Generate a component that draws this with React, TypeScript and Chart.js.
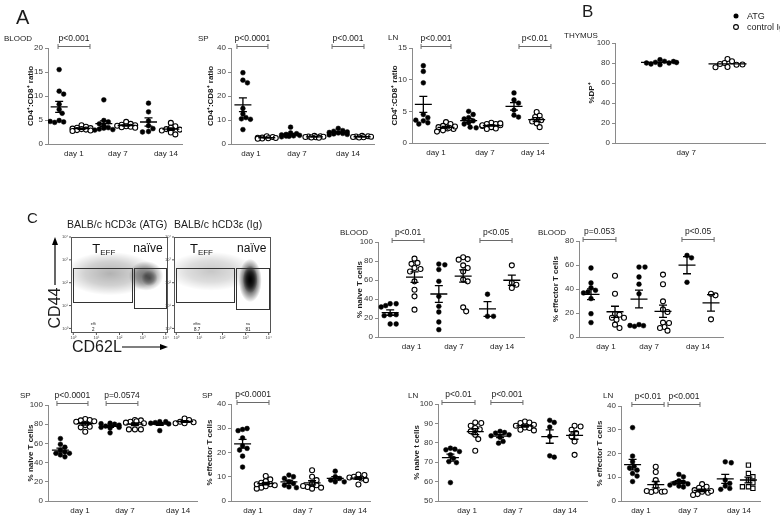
import React, { useEffect, useRef } from "react";
import { Chart, registerables } from "chart.js";
Chart.register(...registerables);

const FONT = "'Liberation Sans', Arial, Helvetica, sans-serif";
const INK = "#1c1c1c";
const AXIS = "#8a8a8a";

// ---------------- data ----------------
const DAYS = ["day 1", "day 7", "day 14"];
const KIND6 = ["atg", "ig", "atg", "ig", "atg", "ig"];
const KIND6SQ = ["atg", "ig", "atg", "ig", "atg", "sq"];

// A: CD4:CD8 ratio  (groups: ATG d1, Ig d1, ATG d7, Ig d7, ATG d14, Ig d14)
const bloodRatio = [
  [15.5, 11, 10.4, 8.3, 7.2, 6.4, 4.9, 4.6, 4.5, 4.7],
  [3.9, 3.6, 3.4, 3.3, 3.2, 3.1, 3.0, 2.9, 2.8, 2.7],
  [9.2, 4.9, 4.6, 4.2, 3.8, 3.4, 3.1, 3.0, 2.9, 3.3],
  [4.6, 4.2, 4.0, 3.9, 3.8, 3.7, 3.6, 3.5, 3.4],
  [8.5, 6.7, 4.8, 3.8, 3.2, 2.6, 2.5],
  [4.4, 3.7, 3.4, 3.1, 3.0, 2.8, 2.4, 2.0],
];
const spRatio = [
  [29.7, 26.6, 25.5, 14.8, 12.5, 11, 10.5, 10.3, 6],
  [3.2, 2.9, 2.7, 2.6, 2.5, 2.4, 2.3, 2.2],
  [7.0, 4.6, 4.3, 4.0, 3.8, 3.6, 3.4, 3.2, 3.0, 3.3],
  [3.4, 3.2, 3.1, 3.0, 2.9, 2.8, 2.7, 2.6],
  [6.5, 5.6, 5.3, 5.0, 4.8, 4.6, 4.4, 4.2, 4.0, 3.8],
  [3.4, 3.2, 3.1, 3.0, 2.9, 2.8, 2.7],
];
const lnRatio = [
  [12.2, 11.3, 9.5, 4.5, 4.0, 3.5, 3.2, 3.0, 3.6],
  [3.3, 3.0, 2.7, 2.5, 2.3, 2.2, 2.0, 1.8, 2.6, 2.4],
  [5.0, 4.5, 4.0, 3.5, 3.2, 3.0, 2.5, 2.4, 3.8],
  [3.2, 3.0, 3.0, 2.8, 2.7, 2.5, 2.3, 2.2, 2.8, 3.1],
  [7.9, 6.8, 6.3, 5.2, 4.4, 4.1],
  [4.9, 4.3, 4.1, 3.6, 3.1, 2.5, 3.4],
];
// B: thymus %DP+ at day 7 (ATG, control Ig)
const thymusDP = [
  [83.3, 81.7, 80.7, 80, 79, 78.3, 80, 81.5, 80.5],
  [84, 81.7, 80, 79, 78.3, 76, 75.7, 78.5],
];
// C: % naive / % effector T cells
const bloodNaive = [
  [35, 35, 33, 31.6, 23.5, 23.5, 22.5, 13.7, 13.7],
  [82.5, 78, 77, 72.6, 71.6, 69, 58.6, 49.8, 42.8, 28.8],
  [76.8, 76, 71, 58.6, 42.8, 32.3, 26.3, 15.8, 7.7],
  [83.9, 82, 81.4, 75.4, 72.6, 69, 60.4, 58.6, 31.2, 27],
  [45, 21.8, 21.8],
  [75.4, 57, 55, 51.6],
];
const bloodEff = [
  [57.5, 45, 41, 38.9, 37.5, 36.7, 32, 19.4, 12],
  [51, 36, 19.4, 18.6, 16, 16, 14.4, 10.3, 7.5],
  [58.3, 58.3, 50, 44, 36, 10.3, 9.4, 8.9, 9.6],
  [52, 44, 29.7, 23, 20.8, 12, 11.7, 8.3, 7.5, 5.3],
  [68, 66, 45.6],
  [36, 34.7, 14.7],
];
const spNaive = [
  [65, 59, 56, 53, 51, 49.7, 49.7, 48, 46],
  [85.4, 84.4, 84, 83, 82.6, 79.2, 77.4, 76.7, 72.2],
  [81, 80, 78, 76.7, 76.7, 76, 71, 79, 80.5],
  [84.4, 84, 82.6, 81.6, 81, 83, 74.6, 74.6, 74.6],
  [82.6, 82.6, 81.6, 81, 80.3, 73.3],
  [86, 84.4, 82.6, 82, 81, 81],
];
const spEff = [
  [29.5, 29.9, 29, 26, 22.7, 21.7, 21, 18.5, 14],
  [10.3, 8.9, 8.2, 7.5, 6.9, 6.5, 6.1, 5.5, 5.1, 6.9],
  [10.7, 10, 9.3, 7.9, 7.2, 6.5, 5.8, 5.5],
  [12.7, 10, 8.6, 7.2, 6.5, 5.8, 5.5, 5.1, 6.2],
  [12.3, 10, 9.3, 8.6, 7.9, 7.9],
  [10.9, 10.7, 10, 9.7, 9.3, 8.6, 6.8],
];
const lnNaive = [
  [77.2, 76.7, 76.4, 75.5, 73.8, 72, 70.3, 69.8, 59.5],
  [90.5, 90.2, 88.8, 87.6, 87, 85.9, 84.1, 81.9, 75.9],
  [85.9, 85.3, 85, 84.1, 83.6, 82.8, 80.7, 79.8],
  [91, 90.5, 90.2, 89.3, 88.8, 87.9, 87.6, 86.7, 86.4],
  [91.6, 90.5, 88.1, 83.3, 73.3, 72.6],
  [88.8, 88.4, 86.7, 85, 83.3, 80.7, 73.8],
];
const lnEff = [
  [30.9, 18.9, 16.5, 14.6, 13.9, 13, 11.6, 10.5, 8.2],
  [14.4, 12.2, 8.8, 6.3, 4.3, 3.9, 3.8, 4.2, 4.0],
  [11.2, 10.2, 8.5, 7.9, 7.5, 7.2, 6.7, 6.3, 5.9],
  [7.1, 6.0, 5.6, 4.6, 3.9, 3.5, 2.9, 2.5, 4.2],
  [16.5, 16.1, 8.8, 7.4, 6.3, 5.3, 4.9],
  [15.1, 11.6, 10.2, 8.8, 7.7, 6.0, 5.3, 6.0],
];

// significance brackets (from/to in group units, text)
const bloodRatioP = [{ a: 0.45, b: 1.88, t: "p<0.001" }];
const spRatioP = [{ a: 0.25, b: 1.55, t: "p<0.0001" }, { a: 4.24, b: 5.58, t: "p<0.001" }];
const lnRatioP = [{ a: 0.4, b: 1.72, t: "p<0.001" }, { a: 4.72, b: 6.13, t: "p<0.01" }];
const bloodNaiveP = [{ a: 0.58, b: 1.89, t: "p<0.01" }, { a: 4.19, b: 5.51, t: "p<0.05" }];
const bloodEffP = [{ a: 0.17, b: 1.54, t: "p=0.053" }, { a: 4.29, b: 5.63, t: "p<0.05" }];
const spNaiveP = [{ a: 0.36, b: 1.61, t: "p<0.0001" }, { a: 2.34, b: 3.62, t: "p=0.0574" }];
const spEffP = [{ a: 0.26, b: 1.64, t: "p<0.0001" }];
const lnNaiveP = [{ a: 0.16, b: 1.49, t: "p<0.01" }, { a: 2.13, b: 3.42, t: "p<0.001" }];
const lnEffP = [{ a: 0.47, b: 1.86, t: "p<0.01" }, { a: 2.03, b: 3.41, t: "p<0.001" }];

// flow cytometry: density regions (log10 decades: x CD62L, y CD44), gates, percentages
const atgDensity = [
  { x: 1.6, y: 2.4, rx: 2.0, ry: 0.95, a: 0.3 },
  { x: 3.15, y: 2.3, rx: 0.75, ry: 0.65, a: 0.55 },
  { x: 3.3, y: 2.2, rx: 0.35, ry: 0.35, a: 0.45 },
];
const igDensity = [
  { x: 1.5, y: 2.5, rx: 1.9, ry: 0.85, a: 0.22 },
  { x: 3.2, y: 2.1, rx: 0.5, ry: 0.95, a: 0.9 },
  { x: 3.2, y: 2.15, rx: 0.32, ry: 0.6, a: 1 },
];
const atgGates = [[0, 1.15, 2.52, 2.64], [2.61, 0.89, 4.0, 2.64]];
const igGates = [[0, 1.15, 2.5, 2.64], [2.6, 0.85, 4.0, 2.64]];
const atgStats = [{ x: 0.86, name: "effi", v: "2" }];
const igStats = [{ x: 0.9, name: "effec", v: "8.7" }, { x: 3.1, name: "na", v: "81" }];
const DECADES = ["10⁰", "10¹", "10²", "10³", "10⁴"];

// ---------------- layout ----------------
const PANELS = [
  { data: bloodRatio, kinds: KIND6, plot: [48, 48, 182, 144], y: [0, 20, 5], title: "CD4⁺:CD8⁺ ratio", titleOff: 17.5, dayAt: [1.16, 3.13, 5.28], br: bloodRatioP },
  { data: spRatio, kinds: KIND6, plot: [231, 48, 374, 144], y: [0, 40, 10], title: "CD4⁺:CD8⁺ ratio", titleOff: 20, dayAt: [0.84, 2.77, 4.91], br: spRatioP },
  { data: lnRatio, kinds: KIND6, plot: [412, 48, 548, 143], y: [0, 15, 5], title: "CD4⁺:CD8⁺ ratio", titleOff: 17.5, dayAt: [1.06, 3.22, 5.34], br: lnRatioP },
  { data: thymusDP, kinds: ["atg", "ig"], plot: [615, 43, 765, 143], y: [0, 100, 20], title: "%DP⁺", titleOff: 23, dayAt: [1.9], days: ["day 7"], br: [], xMax: 4, pos: [1.2, 3.0], meanHalf: 19, capHalf: 0, spread: 17 },
  { data: bloodNaive, kinds: KIND6, plot: [378, 242, 524, 337], y: [0, 100, 20], title: "% naive T cells", titleOff: 18, dayAt: [1.38, 3.12, 5.1], br: bloodNaiveP },
  { data: bloodEff, kinds: KIND6, plot: [579, 241, 723, 337], y: [0, 80, 20], title: "% effector T cells", titleOff: 23.5, dayAt: [1.125, 2.92, 4.96], br: bloodEffP },
  { data: spNaive, kinds: KIND6, plot: [48, 405, 197, 501], y: [0, 100, 20], title: "% naive T cells", titleOff: 17, dayAt: [1.29, 3.1, 5.24], br: spNaiveP },
  { data: spEff, kinds: KIND6, plot: [231, 404, 370, 501], y: [0, 40, 10], title: "% effector T cells", titleOff: 21.5, dayAt: [0.95, 3.1, 5.35], br: spEffP },
  { data: lnNaive, kinds: KIND6, plot: [438, 404, 587, 501], y: [50, 100, 10], title: "% naive t cells", titleOff: 21, dayAt: [1.17, 3.02, 5.11], br: lnNaiveP },
  { data: lnEff, kinds: KIND6SQ, plot: [621, 406, 760, 501], y: [0, 40, 10], title: "% effector T cells", titleOff: 21.5, dayAt: [0.86, 2.89, 5.09], br: lnEffP },
];

const FLOWS = [
  { box: [71, 237, 168, 333], dens: atgDensity, gates: atgGates, stats: atgStats, tAt: [0.82, 3.51], nAt: [2.6, 3.53] },
  { box: [174, 237, 271, 333], dens: igDensity, gates: igGates, stats: igStats, tAt: [0.59, 3.51], nAt: [2.63, 3.55] },
];

// deterministic beeswarm placement (pixel offsets)
function swarm(vals: number[], pxY: number, maxOff: number, d = 4.6) {
  const placed: { o: number; y: number }[] = [];
  return vals.map((v) => {
    const y = v * pxY;
    let best = 0, bestScore = Infinity;
    for (let k = 0; k <= 40; k++) {
      const o = (k % 2 === 1 ? 1 : -1) * Math.ceil(k / 2) * 1.5 + 0;
      if (Math.abs(o) > maxOff) break;
      let overlap = 0;
      for (const p of placed) {
        const dd = Math.hypot(p.o - o, p.y - y);
        if (dd < d) overlap += d - dd;
      }
      if (overlap === 0) { best = o; bestScore = 0; break; }
      if (overlap < bestScore) { bestScore = overlap; best = o; }
    }
    placed.push({ o: best, y });
    return best;
  });
}

function DotPanel({ cfg }: { cfg: any }) {
  const ref = useRef<HTMLCanvasElement>(null);
  const [l, t, r, b] = cfg.plot;
  const L = 62, T = 34, R = 12, B = 24, YW = 40, XH = 2;
  const W = r - l + L + R, H = b - t + T + B;
  useEffect(() => {
    const xMax = cfg.xMax ?? 6;
    const pos = cfg.pos ?? [0.5, 1.5, 2.5, 3.5, 4.5, 5.5];
    const days = cfg.days ?? DAYS;
    const pxX = (r - l) / xMax;
    const pxY = (b - t) / (cfg.y[1] - cfg.y[0]);
    const datasets = cfg.data.map((vals: number[], i: number) => {
      const offs = swarm(vals, pxY, cfg.spread ?? 9);
      const kind = cfg.kinds[i];
      return {
        data: vals.map((v, j) => ({ x: pos[i] + offs[j] / pxX, y: v })),
        pointStyle: kind === "sq" ? "rect" : "circle",
        pointRadius: kind === "atg" ? 2.4 : kind === "sq" ? 3 : 2.5,
        backgroundColor: kind === "atg" ? "#000" : "#fff",
        borderColor: "#000",
        borderWidth: kind === "atg" ? 0.5 : 1.1,
        showLine: false,
      };
    });
    const decor = {
      id: "decor",
      afterDatasetsDraw(ch: any) {
        const ctx = ch.ctx, xs = ch.scales.x, ys = ch.scales.y, ca = ch.chartArea;
        ctx.save();
        ctx.strokeStyle = "#000";
        ctx.lineWidth = 1.3;
        cfg.data.forEach((vals: number[], i: number) => {
          const n = vals.length;
          const m = vals.reduce((a, c) => a + c, 0) / n;
          const sd = Math.sqrt(vals.reduce((a, c) => a + (c - m) ** 2, 0) / (n - 1));
          const se = sd / Math.sqrt(n);
          const cx = xs.getPixelForValue(pos[i]);
          const ym = ys.getPixelForValue(m), y1 = ys.getPixelForValue(m + se), y0 = ys.getPixelForValue(m - se);
          const hw = cfg.meanHalf ?? 8.5, cw = cfg.capHalf ?? 4;
          ctx.beginPath();
          ctx.moveTo(cx - hw, ym); ctx.lineTo(cx + hw, ym);
          if (cw > 0) {
            ctx.moveTo(cx, y1); ctx.lineTo(cx, y0);
            ctx.moveTo(cx - cw, y1); ctx.lineTo(cx + cw, y1);
            ctx.moveTo(cx - cw, y0); ctx.lineTo(cx + cw, y0);
          }
          ctx.stroke();
        });
        ctx.fillStyle = INK;
        ctx.textAlign = "center";
        ctx.textBaseline = "middle";
        ctx.strokeStyle = "#6a6a6a";
        ctx.lineWidth = 1;
        ctx.font = `8.5px ${FONT}`;
        cfg.br.forEach((bk: any) => {
          const x0 = xs.getPixelForValue(bk.a), x1 = xs.getPixelForValue(bk.b);
          const yb = Math.round(ca.top - 2) + 0.5;
          ctx.beginPath();
          ctx.moveTo(x0, yb); ctx.lineTo(x1, yb);
          ctx.moveTo(x0, yb - 2.5); ctx.lineTo(x0, yb + 2.5);
          ctx.moveTo(x1, yb - 2.5); ctx.lineTo(x1, yb + 2.5);
          ctx.stroke();
          ctx.fillText(bk.t, (x0 + x1) / 2, yb - 8);
        });
        ctx.font = `8px ${FONT}`;
        cfg.dayAt.forEach((v: number, k: number) => ctx.fillText(days[k], xs.getPixelForValue(v), ca.bottom + 9.5));
        ctx.translate(ca.left - cfg.titleOff, (ca.top + ca.bottom) / 2);
        ctx.rotate(-Math.PI / 2);
        ctx.font = `bold 8px ${FONT}`;
        ctx.fillText(cfg.title, 0, 0);
        ctx.restore();
      },
    };
    const chart = new Chart(ref.current as HTMLCanvasElement, {
      type: "scatter",
      data: { datasets },
      options: {
        animation: false,
        responsive: false,
        events: [],
        layout: { padding: { left: L - YW, top: T, right: R, bottom: B - XH } },
        plugins: { legend: { display: false }, tooltip: { enabled: false } },
        scales: {
          x: {
            type: "linear", min: 0, max: xMax,
            ticks: { display: false },
            grid: { display: false, drawTicks: false },
            border: { display: true, color: AXIS, width: 1 },
            afterFit: (s: any) => { s.height = XH; },
          },
          y: {
            min: cfg.y[0], max: cfg.y[1],
            ticks: { stepSize: cfg.y[2], font: { family: FONT, size: 8 }, color: "#333", padding: 2 },
            grid: { display: true, drawOnChartArea: false, drawTicks: true, tickLength: 3, color: AXIS },
            border: { display: true, color: AXIS, width: 1 },
            afterFit: (s: any) => { s.width = YW; },
          },
        },
      } as any,
      plugins: [decor],
    });
    return () => chart.destroy();
  }, []);
  return (
    <canvas ref={ref} width={W} height={H}
      style={{ position: "absolute", left: l - L, top: t - T, width: W, height: H }} />
  );
}

function FlowPanel({ cfg }: { cfg: any }) {
  const ref = useRef<HTMLCanvasElement>(null);
  const [l, t, r, b] = cfg.box;
  const M = { left: 14, top: 2, right: 3, bottom: 9 };
  const W = r - l + M.left + M.right, H = b - t + M.top + M.bottom;
  useEffect(() => {
    const plot = {
      id: "flow",
      afterDraw(ch: any) {
        const ctx = ch.ctx, xs = ch.scales.x, ys = ch.scales.y, ca = ch.chartArea;
        const px = (v: number) => xs.getPixelForValue(v);
        const py = (v: number) => ys.getPixelForValue(v);
        const sx = (ca.right - ca.left) / 4.2, sy = (ca.bottom - ca.top) / 4.2;
        ctx.save();
        ctx.beginPath();
        ctx.rect(ca.left, ca.top, ca.right - ca.left, ca.bottom - ca.top);
        ctx.clip();
        cfg.dens.forEach((d: any) => {
          ctx.save();
          ctx.translate(px(d.x), py(d.y));
          ctx.scale(d.rx * sx, d.ry * sy);
          const g = ctx.createRadialGradient(0, 0, 0, 0, 0, 1);
          g.addColorStop(0, `rgba(0,0,0,${d.a})`);
          g.addColorStop(0.55, `rgba(0,0,0,${d.a * 0.6})`);
          g.addColorStop(1, "rgba(0,0,0,0)");
          ctx.fillStyle = g;
          ctx.beginPath();
          ctx.arc(0, 0, 1, 0, Math.PI * 2);
          ctx.fill();
          ctx.restore();
        });
        ctx.restore();
        ctx.save();
        ctx.strokeStyle = "#555";
        ctx.lineWidth = 1;
        ctx.strokeRect(ca.left + 0.5, ca.top + 0.5, ca.right - ca.left - 1, ca.bottom - ca.top - 1);
        ctx.fillStyle = "#444";
        ctx.font = `4px ${FONT}`;
        ctx.textAlign = "center";
        ctx.textBaseline = "middle";
        DECADES.forEach((lab, k) => {
          const x = px(k), y = py(k);
          ctx.beginPath();
          ctx.moveTo(x, ca.bottom); ctx.lineTo(x, ca.bottom + 2);
          ctx.moveTo(ca.left, y); ctx.lineTo(ca.left - 2, y);
          ctx.stroke();
          ctx.fillText(lab, x, ca.bottom + 5);
          ctx.fillText(lab, ca.left - 6, y);
        });
        ctx.strokeStyle = "#333";
        cfg.gates.forEach((g: number[]) => {
          const x0 = Math.round(px(g[0])) + 0.5, x1 = Math.round(px(g[2])) + 0.5;
          const y0 = Math.round(py(g[3])) + 0.5, y1 = Math.round(py(g[1])) + 0.5;
          ctx.strokeRect(x0, y0, x1 - x0, y1 - y0);
        });
        ctx.fillStyle = "#111";
        ctx.textAlign = "left";
        ctx.textBaseline = "alphabetic";
        const tx = px(cfg.tAt[0]), ty = py(cfg.tAt[1]) + 4.5;
        ctx.font = `13px ${FONT}`;
        ctx.fillText("T", tx, ty);
        const tw = ctx.measureText("T").width;
        ctx.font = `8px ${FONT}`;
        ctx.fillText("EFF", tx + tw, ty + 2.5);
        ctx.font = `12px ${FONT}`;
        ctx.fillText("naïve", px(cfg.nAt[0]), py(cfg.nAt[1]) + 4.5);
        ctx.textAlign = "center";
        ctx.textBaseline = "middle";
        cfg.stats.forEach((s: any) => {
          ctx.font = `3.5px ${FONT}`;
          ctx.fillText(s.name, px(s.x), py(0.19));
          ctx.font = `4.5px ${FONT}`;
          ctx.fillText(s.v, px(s.x), py(-0.07));
        });
        ctx.restore();
      },
    };
    const chart = new Chart(ref.current as HTMLCanvasElement, {
      type: "scatter",
      data: { datasets: [] },
      options: {
        animation: false,
        responsive: false,
        events: [],
        layout: { padding: M },
        plugins: { legend: { display: false }, tooltip: { enabled: false } },
        scales: {
          x: { type: "linear", display: false, min: -0.1, max: 4.1 },
          y: { type: "linear", display: false, min: -0.2, max: 4.0 },
        },
      } as any,
      plugins: [plot],
    });
    return () => chart.destroy();
  }, []);
  return (
    <canvas ref={ref} width={W} height={H}
      style={{ position: "absolute", left: l - M.left, top: t - M.top, width: W, height: H }} />
  );
}

function Txt({ x, y, s = 8, children, bold = false, center = false, rot = false }: any) {
  return (
    <div style={{
      position: "absolute", left: x, top: y, fontSize: s, lineHeight: 1, fontFamily: FONT,
      color: INK, whiteSpace: "nowrap", fontWeight: bold ? "bold" : "normal",
      transform: `translate(${center ? "-50%" : "0"}, -50%)${rot ? " rotate(-90deg)" : ""}`,
    }}>{children}</div>
  );
}

export default function App() {
  return (
    <div style={{ position: "fixed", left: 0, top: 0, width: 780, height: 516, background: "#fff", overflow: "hidden" }}>
      {PANELS.map((p, i) => <DotPanel key={i} cfg={p} />)}
      {FLOWS.map((f, i) => <FlowPanel key={i} cfg={f} />)}
      <Txt x={16} y={17} s={20}>A</Txt>
      <Txt x={582} y={11} s={17}>B</Txt>
      <Txt x={27} y={217} s={15}>C</Txt>
      <Txt x={4} y={39}>BLOOD</Txt>
      <Txt x={198} y={39}>SP</Txt>
      <Txt x={388} y={38}>LN</Txt>
      <Txt x={564} y={36}>THYMUS</Txt>
      <Txt x={340} y={233}>BLOOD</Txt>
      <Txt x={538} y={233}>BLOOD</Txt>
      <Txt x={20} y={396}>SP</Txt>
      <Txt x={202} y={396}>SP</Txt>
      <Txt x={408} y={396}>LN</Txt>
      <Txt x={603} y={396}>LN</Txt>
      <Txt x={747} y={16} s={9}>ATG</Txt>
      <Txt x={747} y={27} s={9}>control Ig</Txt>
      <Txt x={67} y={224} s={10.5}>BALB/c hCD3ε (ATG)</Txt>
      <Txt x={174} y={224} s={10.5}>BALB/c hCD3ε (Ig)</Txt>
      <Txt x={55} y={308} s={16} center rot>CD44</Txt>
      <Txt x={72} y={347} s={16}>CD62L</Txt>
      <svg width={780} height={516} style={{ position: "absolute", left: 0, top: 0, pointerEvents: "none" }}>
        <circle cx={736} cy={16} r={2.5} fill="#000" />
        <circle cx={736} cy={27} r={2.4} fill="#fff" stroke="#000" strokeWidth={1.1} />
        <line x1={55} y1={285} x2={55} y2={243} stroke="#000" strokeWidth={1.2} />
        <polygon points="55,237 52,245 58,245" fill="#000" />
        <line x1={122} y1={347} x2={162} y2={347} stroke="#000" strokeWidth={1.2} />
        <polygon points="168,347 160,344 160,350" fill="#000" />
      </svg>
    </div>
  );
}
